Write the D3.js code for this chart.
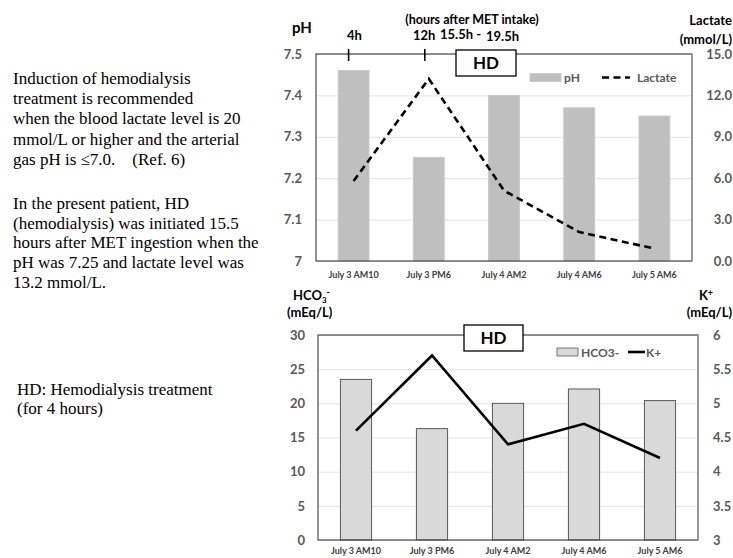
<!DOCTYPE html>
<html>
<head>
<meta charset="utf-8">
<script src="https://cdn.jsdelivr.net/npm/d3@7"></script>
<style>
  body { margin: 0; background: #fff; }
  .note { font-family: "Liberation Serif", "Times New Roman", serif; font-size: 17px; fill: #000; }
  .lbl { font-family: Lato, "Open Sans", sans-serif; font-weight: bold; }
</style>
</head>
<body>
<div id="chart-area"></div>
<script>
const categories = ['July 3 AM10', 'July 3 PM6', 'July 4 AM2', 'July 4 AM6', 'July 5 AM6']
const phValues = [7.46, 7.25, 7.40, 7.37, 7.35]
const lactateValues = [5.8, 13.2, 5.1, 2.1, 0.9]
const hco3Values = [23.5, 16.3, 20.0, 22.1, 20.4]
const kValues = [4.6, 5.7, 4.4, 4.7, 4.2]

const phTicks = [7, 7.1, 7.2, 7.3, 7.4, 7.5]
const lactateTicks = [0, 3, 6, 9, 12, 15]
const hco3Ticks = [0, 5, 10, 15, 20, 25, 30]
const kTicks = [3, 3.5, 4, 4.5, 5, 5.5, 6]

const notes1 = [
    'Induction of hemodialysis',
    'treatment is recommended',
    'when the blood lactate level is 20',
    'mmol/L or higher and the arterial',
    'gas pH is \u22647.0.    (Ref. 6)'
]
const notes2 = [
    'In the present patient, HD',
    '(hemodialysis) was initiated 15.5',
    'hours after MET ingestion when the',
    'pH was 7.25 and lactate level was',
    '13.2 mmol/L.'
]
const notes3 = ['HD: Hemodialysis treatment', '(for 4 hours)']

const svg = d3.select('#chart-area').append('svg')
    .attr('width', 733)
    .attr('height', 558)

// side notes
const addLines = (lines, x, y0, step) => {
    lines.forEach((t, i) => {
        svg.append('text').attr('class', 'note')
            .attr('x', x).attr('y', y0 + i * step)
            .attr('xml:space', 'preserve')
            .text(t)
    })
}
addLines(notes1, 13, 84, 20.2)
addLines(notes2, 13, 209, 19.7)
addLines(notes3, 17, 395, 19)

function panel(opt) {
    const { left, right, top, bottom } = opt
    const g = svg.append('g')

    const xScale = d3.scaleBand()
        .domain(categories)
        .range([left, right])
        .paddingInner(0.59)
        .paddingOuter(0.295)

    const yScale = d3.scaleLinear().domain(opt.yDomain).range([bottom, top])
    const y2Scale = d3.scaleLinear().domain(opt.y2Domain).range([bottom, top])

    // gridlines
    g.append('g')
        .attr('transform', `translate(${left}, 0)`)
        .call(d3.axisLeft(yScale).tickValues(opt.yTicks).tickSize(-(right - left)).tickFormat(''))
        .call(s => s.select('.domain').remove())
        .selectAll('line').attr('stroke', '#e3e3e3')

    // bars
    g.selectAll('rect.bar')
        .data(opt.bars).enter().append('rect')
        .attr('class', 'bar')
        .attr('x', (d, i) => xScale(categories[i]))
        .attr('y', d => yScale(d))
        .attr('width', xScale.bandwidth())
        .attr('height', d => bottom - yScale(d))
        .attr('fill', opt.barFill)
        .attr('stroke', opt.barStroke)
        .attr('stroke-width', 1)

    // frame
    g.append('rect')
        .attr('x', left).attr('y', top)
        .attr('width', right - left).attr('height', bottom - top)
        .attr('fill', 'none').attr('stroke', '#4a4a4a').attr('stroke-width', 1.2)
    g.append('line')
        .attr('x1', right).attr('x2', right).attr('y1', top).attr('y2', bottom)
        .attr('stroke', '#9a9a9a').attr('stroke-width', 1.5)

    // line series
    const line = d3.line()
        .x((d, i) => xScale(categories[i]) + xScale.bandwidth() / 2)
        .y(d => y2Scale(d))
    g.append('path')
        .datum(opt.line)
        .attr('d', line)
        .attr('fill', 'none')
        .attr('stroke', '#000')
        .attr('stroke-width', 2.6)
        .attr('stroke-dasharray', opt.dash || null)

    // left axis labels
    g.append('g')
        .attr('transform', `translate(${left}, 0)`)
        .call(d3.axisLeft(yScale).tickValues(opt.yTicks).tickSize(0).tickPadding(opt.leftPad).tickFormat(opt.yFormat))
        .call(s => s.select('.domain').remove())
        .selectAll('text')
        .attr('class', 'lbl').attr('font-size', '13px').attr('fill', '#595959')

    // right axis labels
    const ra = g.append('g')
        .attr('transform', `translate(${right}, 0)`)
        .call(d3.axisRight(y2Scale).tickValues(opt.y2Ticks).tickSize(0).tickPadding(opt.rightPad).tickFormat(opt.y2Format))
        .call(s => s.select('.domain').remove())
    ra.selectAll('text')
        .attr('class', 'lbl').attr('font-size', '13px').attr('fill', '#595959')
        .attr('text-anchor', opt.rightAnchor)

    // x axis labels
    g.append('g')
        .attr('transform', `translate(0, ${bottom})`)
        .call(d3.axisBottom(xScale).tickSize(0).tickPadding(opt.xPad))
        .call(s => s.select('.domain').remove())
        .selectAll('text')
        .attr('class', 'lbl').attr('font-size', '9px').attr('fill', '#404040')

    // HD box
    g.append('rect')
        .attr('x', opt.hd[0]).attr('y', opt.hd[1])
        .attr('width', opt.hd[2]).attr('height', opt.hd[3])
        .attr('fill', '#fff').attr('stroke', '#000').attr('stroke-width', 1.3)
    g.append('text').attr('class', 'lbl')
        .attr('x', opt.hd[0] + opt.hd[2] / 2).attr('y', opt.hd[1] + 19)
        .attr('text-anchor', 'middle').attr('font-size', '17px')
        .text('HD')

    // legend
    const lg = opt.legend
    g.append('rect')
        .attr('x', lg.x).attr('y', lg.y - 4).attr('width', lg.w).attr('height', 8)
        .attr('fill', opt.barFill).attr('stroke', opt.barStroke).attr('stroke-width', 0.8)
    g.append('text').attr('class', 'lbl')
        .attr('x', lg.x + lg.w + 3).attr('y', lg.y + 4.5)
        .attr('font-size', '12px').attr('fill', '#595959')
        .text(lg.barName)
    g.append('line')
        .attr('x1', lg.lx).attr('x2', lg.lx + lg.lw).attr('y1', lg.y).attr('y2', lg.y)
        .attr('stroke', '#000').attr('stroke-width', 2.6)
        .attr('stroke-dasharray', opt.dash || null)
    g.append('text').attr('class', 'lbl')
        .attr('x', lg.lx + lg.lw + lg.gap).attr('y', lg.y + 4.5)
        .attr('font-size', '12px').attr('fill', '#595959')
        .text(lg.lineName)

    return { g, xScale }
}

// top panel: pH and lactate
const topPanel = panel({
    left: 316, right: 692, top: 54, bottom: 261,
    yDomain: [7, 7.5], yTicks: phTicks, yFormat: d => d === 7 ? '7' : d3.format('.1f')(d),
    y2Domain: [0, 15], y2Ticks: lactateTicks, y2Format: d3.format('.1f'),
    bars: phValues, line: lactateValues, dash: '7,4.5',
    barFill: '#bfbfbf', barStroke: '#c8c8c8',
    leftPad: 14, rightPad: 40, rightAnchor: 'end', xPad: 11,
    hd: [456, 50, 60, 26],
    legend: { x: 530, y: 77.5, w: 31, barName: 'pH', lx: 602, lw: 28, gap: 7, lineName: 'Lactate' }
})

// time markers above top panel
const hourTicks = [
    { cat: categories[0], dx: -5 },
    { cat: categories[1], dx: -4 }
]
hourTicks.forEach(t => {
    const x = topPanel.xScale(t.cat) + topPanel.xScale.bandwidth() / 2 + t.dx
    svg.append('line')
        .attr('x1', x).attr('x2', x).attr('y1', 49).attr('y2', 61)
        .attr('stroke', '#000').attr('stroke-width', 1.6)
})

const headText = (x, y, t, size, anchor) => svg.append('text').attr('class', 'lbl')
    .attr('x', x).attr('y', y).attr('font-size', size)
    .attr('text-anchor', anchor || 'start').text(t)

headText(292, 33, 'pH', '15px')
headText(347, 40, '4h', '13px')
headText(472, 24, '(hours after MET intake)', '12.5px', 'middle')
headText(413, 40, '12h', '13px')
headText(440, 39, '15.5h -', '13px')
headText(486, 41, '19.5h', '13px')
headText(732, 25, 'Lactate', '13px', 'end')
headText(732, 44, '(mmol/L)', '13px', 'end')

// bottom panel: HCO3- and K+
panel({
    left: 318, right: 698, top: 335, bottom: 540,
    yDomain: [0, 30], yTicks: hco3Ticks, yFormat: d3.format('d'),
    y2Domain: [3, 6], y2Ticks: kTicks, y2Format: d => String(d),
    bars: hco3Values, line: kValues, dash: null,
    barFill: '#d9d9d9', barStroke: '#5a5a5a',
    leftPad: 13, rightPad: 15, rightAnchor: 'start', xPad: 8,
    hd: [464, 325, 59, 26],
    legend: { x: 557, y: 352, w: 21, barName: 'HCO3-', lx: 628, lw: 17, gap: 1, lineName: 'K+' }
})

const hco = svg.append('text').attr('class', 'lbl')
    .attr('x', 293).attr('y', 300).attr('font-size', '13px')
hco.append('tspan').text('HCO')
hco.append('tspan').attr('font-size', '8px').attr('dy', 3).text('3')
hco.append('tspan').attr('font-size', '9px').attr('dy', -8).text('-')
headText(287, 317, '(mEq/L)', '13px')
const kp = svg.append('text').attr('class', 'lbl')
    .attr('x', 706).attr('y', 300).attr('font-size', '13px').attr('text-anchor', 'middle')
kp.append('tspan').text('K')
kp.append('tspan').attr('font-size', '9px').attr('dy', -4).text('+')
headText(732, 317, '(mEq/L)', '13px', 'end')
</script>
</body>
</html>
